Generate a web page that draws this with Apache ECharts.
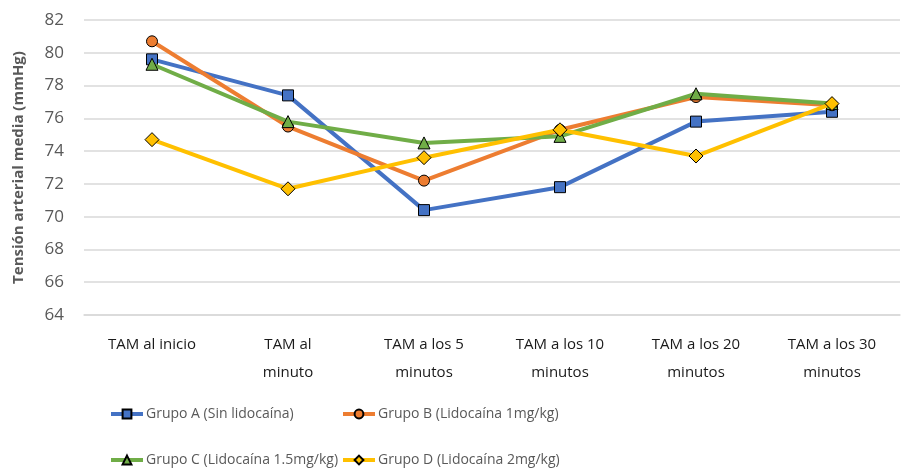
<!DOCTYPE html>
<html>
<head>
<meta charset="utf-8">
<script src="https://cdn.jsdelivr.net/npm/echarts@6/dist/echarts.min.js"></script>
<style>
  html, body { margin: 0; padding: 0; background: #fff; }
  #chart { width: 902px; height: 475px; }
</style>
</head>
<body>
<div id="chart"></div>
<script>
// categories and values
const categories = [
  'TAM al inicio',
  'TAM al\nminuto',
  'TAM a los 5\nminutos',
  'TAM a los 10\nminutos',
  'TAM a los 20\nminutos',
  'TAM a los 30\nminutos'
]
const grupoA = [79.6, 77.4, 70.4, 71.8, 75.8, 76.4]
const grupoB = [80.7, 75.5, 72.2, 75.3, 77.3, 76.8]
const grupoC = [79.3, 75.8, 74.5, 74.9, 77.5, 76.9]
const grupoD = [74.7, 71.7, 73.6, 75.3, 73.7, 76.9]
const seriesNames = [
  'Grupo A (Sin lidocaína)',
  'Grupo B (Lidocaína 1mg/kg)',
  'Grupo C (Lidocaína 1.5mg/kg)',
  'Grupo D (Lidocaína 2mg/kg)'
]
const colors = ['#4472C4', '#ED7D31', '#70AD47', '#FFC000']
const symbols = ['rect', 'circle', 'triangle', 'diamond']
const symbolSizes = [11, 11, 12, 14]

const font = '"Open Sans", sans-serif'

const chart = echarts.init(document.getElementById('chart'))

function makeSeries(i, data) {
  return {
    name: seriesNames[i],
    type: 'line',
    data: data,
    symbol: symbols[i],
    symbolSize: symbolSizes[i],
    showAllSymbol: true,
    lineStyle: { width: 4, color: colors[i] },
    itemStyle: { color: colors[i], borderColor: '#000', borderWidth: 1 },
    emphasis: { disabled: true },
    z: 2 + i
  }
}

function makeLegend(i, left, top) {
  return {
    data: [seriesNames[i]],
    left: left,
    top: top,
    itemWidth: 32,
    itemHeight: 11,
    itemGap: 0,
    lineStyle: { width: 4 },
    textStyle: { fontFamily: font, fontSize: 14, color: '#595959', padding: [0, 0, 0, -2] }
  }
}

chart.setOption({
  animation: false,
  textStyle: { fontFamily: font },
  color: colors,
  grid: { left: 84, right: 2, top: 20, bottom: 160 },
  legend: [
    makeLegend(0, 104, 402),
    makeLegend(1, 336, 402),
    makeLegend(2, 104, 448),
    makeLegend(3, 336, 448)
  ],
  xAxis: {
    type: 'category',
    data: categories,
    axisTick: { show: false },
    axisLine: { lineStyle: { color: '#d9d9d9', width: 1.5 } },
    axisLabel: {
      fontFamily: font,
      fontSize: 15,
      color: '#1a1a1a',
      margin: 16,
      lineHeight: 28,
      interval: 0
    }
  },
  yAxis: {
    type: 'value',
    min: 64,
    max: 82,
    interval: 2,
    name: 'Tensión arterial media (mmHg)',
    nameLocation: 'middle',
    nameGap: 58,
    nameTextStyle: {
      fontFamily: font,
      fontSize: 15,
      fontWeight: 'bold',
      color: '#595959'
    },
    axisLine: { show: false },
    axisTick: { show: false },
    axisLabel: {
      fontFamily: font,
      fontSize: 17,
      color: '#595959',
      margin: 20
    },
    splitLine: { lineStyle: { color: '#d9d9d9', width: 1.5 } }
  },
  series: [
    makeSeries(0, grupoA),
    makeSeries(1, grupoB),
    makeSeries(2, grupoC),
    makeSeries(3, grupoD)
  ]
})
</script>
</body>
</html>
